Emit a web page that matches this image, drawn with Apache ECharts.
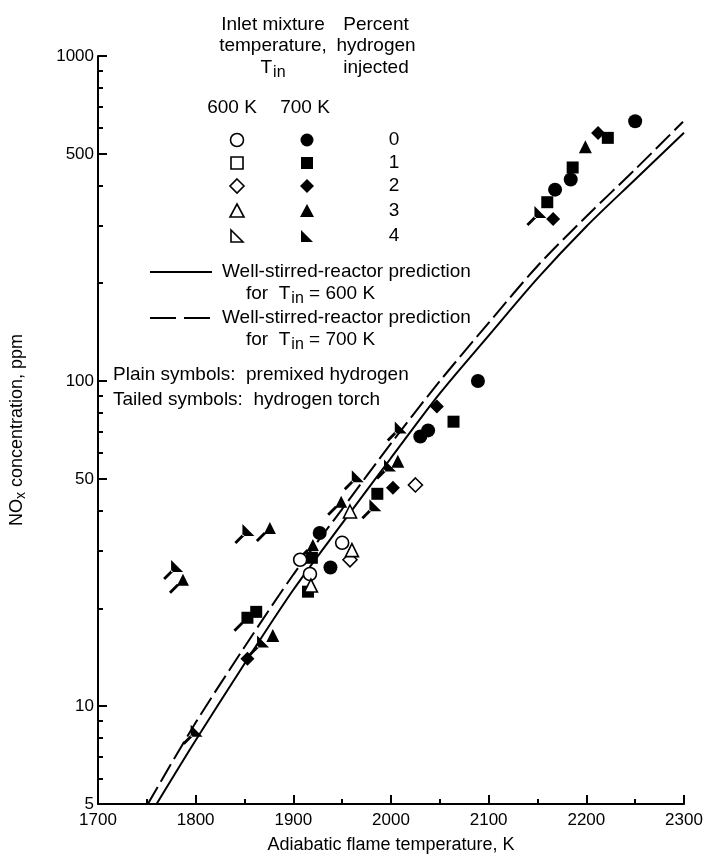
<!DOCTYPE html>
<html>
<head>
<meta charset="utf-8">
<script src="https://cdn.jsdelivr.net/npm/echarts@6/dist/echarts.min.js"></script>
<style>
html,body{margin:0;padding:0;background:#fff;}
#main{width:706px;height:859px;}
</style>
</head>
<body>
<div id="main"></div>
<script>
// axis values
var xTicks = [1700, 1800, 1900, 2000, 2100, 2200, 2300];
var yLabelValues = [5, 10, 50, 100, 500, 1000];
var yMinorValues = [6, 7, 8, 9, 20, 30, 40, 60, 70, 80, 90, 200, 300, 400, 600, 700, 800, 900];

// well-stirred-reactor predictions
var wsr600 = [[1760, 5], [1800, 7.85], [1850, 13.5], [1900, 22.8], [1950, 36.5], [2000, 58], [2050, 91.6], [2100, 138], [2150, 207], [2200, 299], [2250, 417], [2300, 581]];
var wsr700 = [[1751, 5], [1800, 8.9], [1850, 15.2], [1900, 25.4], [1950, 40.4], [2000, 64.3], [2050, 100], [2100, 151], [2150, 226], [2200, 321], [2250, 448], [2299, 628]];

// 600 K, open symbols (premixed)
var open0 = [[1907, 28.2], [1917, 25.5], [1950, 31.8]];
var open2 = [[1958, 28.2], [2025, 47.9]];
var open3 = [[1918, 23.5], [1960, 30.2], [1958, 39.7]];
// 700 K, filled symbols (premixed)
var fill0 = [[1927, 34.1], [1938, 26.7], [2030, 67.5], [2038, 70.5], [2089, 100], [2168, 388], [2184, 417], [2250, 630]];
var fill1 = [[1862, 19.5], [1915, 22.5], [1919, 28.6], [1986, 45], [2064, 75], [2160, 355], [2186, 454], [2222, 560]];
var fill2 = [[1853, 14], [2002, 47], [2047, 83.5], [2166, 315], [2212, 580]];
var fill3 = [[1879, 16.5], [2007, 56.7], [2199, 526]];
// 700 K, tailed symbols (hydrogen torch)
var torch1 = [[1853, 18.7]];
var torch3 = [[1787, 24.5], [1876, 35.3], [1920, 31.3], [1949, 42.5]];
var torch4 = [[1781, 27], [1801, 8.4], [1854, 34.8], [1869, 15.8], [1966, 51], [1984, 41.5], [1999, 55], [2010, 72], [2153, 331]];

var FONT = '"Liberation Sans", Arial, sans-serif';
var TAIL = ' M8 10 L10 12 L2 20 L0 18 Z';
var tailRect = 'path://M8 0 L20 0 L20 12 L8 12 Z' + TAIL;
var tailTri = 'path://M14 0 L20 12 L8 12 Z' + TAIL;
var tailRight = 'path://M8 0 L8 12 L20 12 Z' + TAIL;

function scatter(data, symbol, size, open, offset) {
    return {
        type: 'scatter',
        data: data,
        symbol: symbol,
        symbolSize: size,
        symbolOffset: offset || [0, 0],
        silent: true,
        z: open ? 4 : 3,
        itemStyle: open ? {color: '#fff', borderColor: '#000', borderWidth: 1.6, opacity: 1} : {color: '#000', opacity: 1}
    };
}

function txt(x, y, s, align) {
    return {
        type: 'text', x: x, y: y, silent: true,
        style: {
            text: s, fill: '#000', font: '19px ' + FONT,
            textAlign: align || 'center', textVerticalAlign: 'middle',
            rich: {sub: {fontSize: 16, fontFamily: FONT, padding: [9, 0, 0, 1]}, n: {fontSize: 19, fontFamily: FONT}}
        }
    };
}

function plain(v) {
    return String(Math.round(v));
}

// legend symbols (decoration)
var rows = [140, 163, 186, 211, 236];
var colOpen = 237, colFill = 307;
function legendSymbols(cx, open) {
    var st = open ? {fill: '#fff', stroke: '#000', lineWidth: 1.6} : {fill: '#000'};
    return [
        {type: 'circle', shape: {cx: cx, cy: rows[0], r: 6.5}, style: st},
        {type: 'rect', shape: {x: cx - 6, y: rows[1] - 6, width: 12, height: 12}, style: st},
        {type: 'polygon', shape: {points: [[cx, rows[2] - 7], [cx + 7, rows[2]], [cx, rows[2] + 7], [cx - 7, rows[2]]]}, style: st},
        {type: 'polygon', shape: {points: [[cx, rows[3] - 7], [cx + 7, rows[3] + 6], [cx - 7, rows[3] + 6]]}, style: st},
        {type: 'polygon', shape: {points: [[cx - 6, rows[4] - 6], [cx + 6, rows[4] + 6], [cx - 6, rows[4] + 6]]}, style: st}
    ];
}

var graphics = [
    txt(273, 25, 'Inlet mixture'),
    txt(273, 46, 'temperature,'),
    txt(273, 68, '{n|T}{sub|in}'),
    txt(376, 25, 'Percent'),
    txt(376, 46, 'hydrogen'),
    txt(376, 68, 'injected'),
    txt(232, 108, '600 K'),
    txt(305, 108, '700 K'),
    txt(394, rows[0], '0'),
    txt(394, rows[1], '1'),
    txt(394, rows[2], '2'),
    txt(394, rows[3], '3'),
    txt(394, rows[4], '4'),
    {type: 'line', shape: {x1: 150, y1: 272, x2: 212, y2: 272}, style: {stroke: '#000', lineWidth: 2}},
    txt(222, 272, 'Well-stirred-reactor prediction', 'left'),
    txt(246, 294, '{n|for  T}{sub|in}{n| = 600 K}', 'left'),
    {type: 'line', shape: {x1: 150, y1: 318, x2: 212, y2: 318}, style: {stroke: '#000', lineWidth: 2, lineDash: [26, 8]}},
    txt(222, 318, 'Well-stirred-reactor prediction', 'left'),
    txt(246, 340, '{n|for  T}{sub|in}{n| = 700 K}', 'left'),
    txt(113, 375, 'Plain symbols:  premixed hydrogen', 'left'),
    txt(113, 400, 'Tailed symbols:  hydrogen torch', 'left')
].concat(legendSymbols(colOpen, true), legendSymbols(colFill, false));

var myChart = echarts.init(document.getElementById('main'));

var option = {
    animation: false,
    backgroundColor: '#fff',
    grid: {left: 98, right: 22, top: 56, bottom: 53, containLabel: false},
    xAxis: {
        type: 'value', min: 1700, max: 2300, interval: 100,
        name: 'Adiabatic flame temperature, K',
        nameLocation: 'middle', nameGap: 32,
        nameTextStyle: {fontSize: 18, fontFamily: FONT, color: '#000'},
        axisLine: {lineStyle: {color: '#000', width: 2}},
        axisTick: {inside: true, length: 9, lineStyle: {color: '#000', width: 2}},
        minorTick: {show: true, splitNumber: 2, length: 5, lineStyle: {color: '#000', width: 2}},
        axisLabel: {fontSize: 17, fontFamily: FONT, color: '#000', margin: 8,
            customValues: xTicks, formatter: plain},
        splitLine: {show: false}
    },
    yAxis: [{
        type: 'log', logBase: 10, min: 5, max: 1000,
        name: 'NO{sub|x} concentration, ppm',
        nameLocation: 'middle', nameGap: 70, nameRotate: 90,
        nameTextStyle: {fontSize: 18, fontFamily: FONT, color: '#000',
            rich: {sub: {fontSize: 14, fontFamily: FONT, padding: [8, 0, 0, 0]}}},
        axisLine: {show: true, lineStyle: {color: '#000', width: 2}},
        axisTick: {inside: true, length: 9, customValues: yLabelValues, lineStyle: {color: '#000', width: 2}},
        axisLabel: {fontSize: 17, fontFamily: FONT, color: '#000', margin: 4,
            customValues: yLabelValues, formatter: plain},
        splitLine: {show: false}
    }, {
        type: 'log', logBase: 10, min: 5, max: 1000, position: 'left',
        axisLine: {show: false},
        axisTick: {inside: true, length: 5, customValues: yMinorValues, lineStyle: {color: '#000', width: 2}},
        axisLabel: {show: false},
        splitLine: {show: false}
    }],
    series: [
        {type: 'line', data: wsr600, smooth: 0.3, showSymbol: false, silent: true, z: 2,
            lineStyle: {color: '#000', width: 2}},
        {type: 'line', data: wsr700, smooth: 0.3, showSymbol: false, silent: true, z: 2,
            lineStyle: {color: '#000', width: 2, type: [20, 6]}},
        scatter(open0, 'circle', 13, true),
        scatter(open2, 'diamond', 14, true),
        scatter(open3, 'triangle', 13, true),
        scatter(fill0, 'circle', 14, false),
        scatter(fill1, 'rect', 12, false),
        scatter(fill2, 'diamond', 14, false),
        scatter(fill3, 'triangle', 13, false),
        scatter(torch1, tailRect, 20, false, [-4, 4]),
        scatter(torch3, tailTri, 20, false, [-4, 4]),
        scatter(torch4, tailRight, 20, false, [-4, 4])
    ],
    graphic: {elements: graphics}
};

myChart.setOption(option);
</script>
</body>
</html>
